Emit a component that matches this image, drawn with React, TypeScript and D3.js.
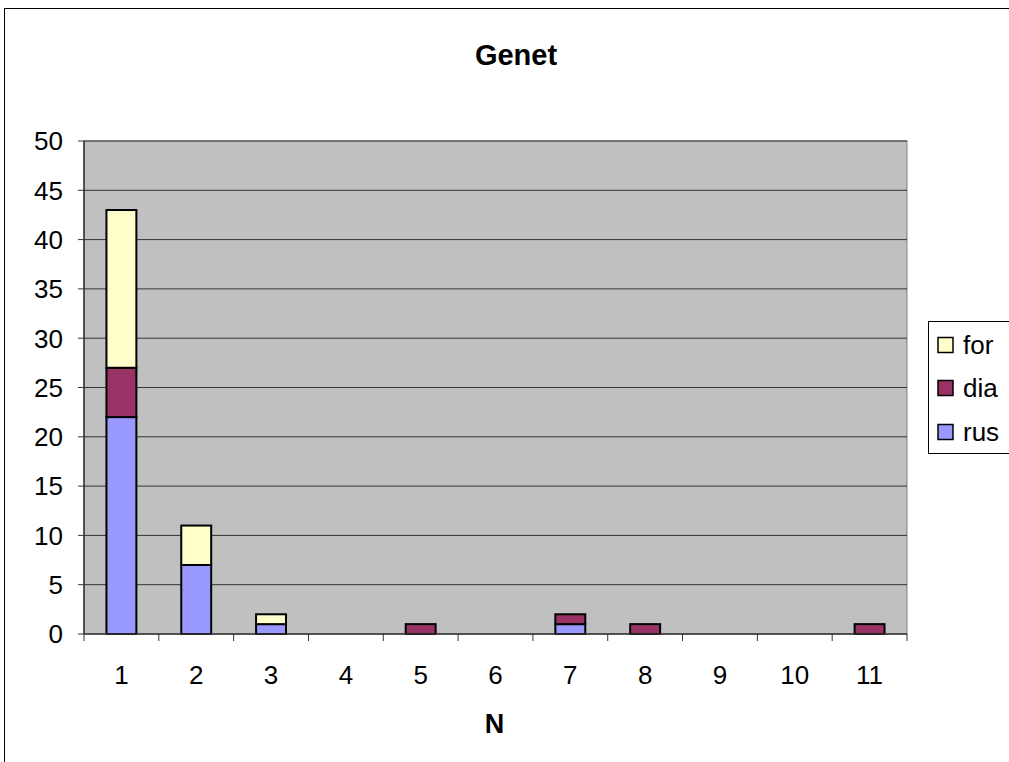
import React from "react";
import * as d3 from "d3";

const categories = ["1", "2", "3", "4", "5", "6", "7", "8", "9", "10", "11"];
const rus = [22, 7, 1, 0, 0, 0, 1, 0, 0, 0, 0];
const dia = [5, 0, 0, 0, 1, 0, 1, 1, 0, 0, 1];
const forV = [16, 4, 1, 0, 0, 0, 0, 0, 0, 0, 0];
const seriesNames = ["rus", "dia", "for"];
const seriesColors = ["#9999FF", "#993366", "#FFFFCC"];
const yTicks = [0, 5, 10, 15, 20, 25, 30, 35, 40, 45, 50];

export default function App() {
  const W = 1009, H = 762;
  const left = 84, right = 907, top = 141, bottom = 634;
  const x = d3.scaleBand().domain(categories).range([left, right]).paddingInner(0).paddingOuter(0);
  const y = d3.scaleLinear().domain([0, 50]).range([bottom, top]);
  const bw = x.bandwidth() / 2.5;
  const rows = categories.map((c, i) => ({ cat: c, rus: rus[i], dia: dia[i], for: forV[i] }));
  const stack = d3.stack<any>().keys(seriesNames)(rows);
  const font = "Arial, 'Liberation Sans', sans-serif";
  const legendItems = [
    { name: "for", color: seriesColors[2], y: 345 },
    { name: "dia", color: seriesColors[1], y: 388 },
    { name: "rus", color: seriesColors[0], y: 432 },
  ];
  return (
    <svg width={W} height={H} style={{ position: "absolute", left: 0, top: 0 }} fontFamily={font}>
      <rect x={0} y={0} width={W} height={H} fill="#fff" />
      <rect x={4.5} y={8.5} width={1020} height={800} fill="#fff" stroke="#000" strokeWidth={1} />
      <text x={516} y={65} textAnchor="middle" fontSize={29} fontWeight="bold">Genet</text>
      <rect x={left} y={top} width={right - left} height={bottom - top} fill="#C0C0C0" stroke="#808080" strokeWidth={1} />
      {yTicks.map((t) => (
        <g key={t}>
          {t > 0 && <line x1={left} x2={right} y1={y(t)} y2={y(t)} stroke="#333" strokeWidth={1} />}
          <line x1={left - 6} x2={left} y1={y(t)} y2={y(t)} stroke="#333" strokeWidth={1} />
          <text x={63} y={y(t)} dy="0.36em" textAnchor="end" fontSize={26}>{t}</text>
        </g>
      ))}
      {stack.map((layer, si) => (
        <g key={si}>
          {layer.map((d, i) =>
            d[1] - d[0] > 0 ? (
              <rect
                key={i}
                x={(x(categories[i]) as number) + (x.bandwidth() - bw) / 2}
                y={y(d[1])}
                width={bw}
                height={y(d[0]) - y(d[1])}
                fill={seriesColors[si]}
                stroke="#000"
                strokeWidth={2}
              />
            ) : null
          )}
        </g>
      ))}
      <line x1={left} x2={left} y1={top} y2={bottom} stroke="#333" strokeWidth={1.5} />
      <line x1={left} x2={right} y1={bottom} y2={bottom} stroke="#333" strokeWidth={1.5} />
      {categories.map((c, i) => (
        <line key={"t" + i} x1={x(c) as number} x2={x(c) as number} y1={bottom} y2={bottom + 7} stroke="#333" strokeWidth={1} />
      ))}
      <line x1={right} x2={right} y1={bottom} y2={bottom + 7} stroke="#333" strokeWidth={1} />
      {categories.map((c) => (
        <text key={"l" + c} x={(x(c) as number) + x.bandwidth() / 2} y={675} dy="0.36em" textAnchor="middle" fontSize={26}>{c}</text>
      ))}
      <text x={494.5} y={723} dy="0.36em" textAnchor="middle" fontSize={27} fontWeight="bold">N</text>
      <rect x={928.5} y={321.5} width={100} height={132} fill="#fff" stroke="#000" strokeWidth={1} />
      {legendItems.map((it) => (
        <g key={it.name}>
          <rect x={938} y={it.y - 7.5} width={15} height={15} fill={it.color} stroke="#000" strokeWidth={1.5} />
          <text x={963} y={it.y} dy="0.36em" fontSize={26}>{it.name}</text>
        </g>
      ))}
    </svg>
  );
}
